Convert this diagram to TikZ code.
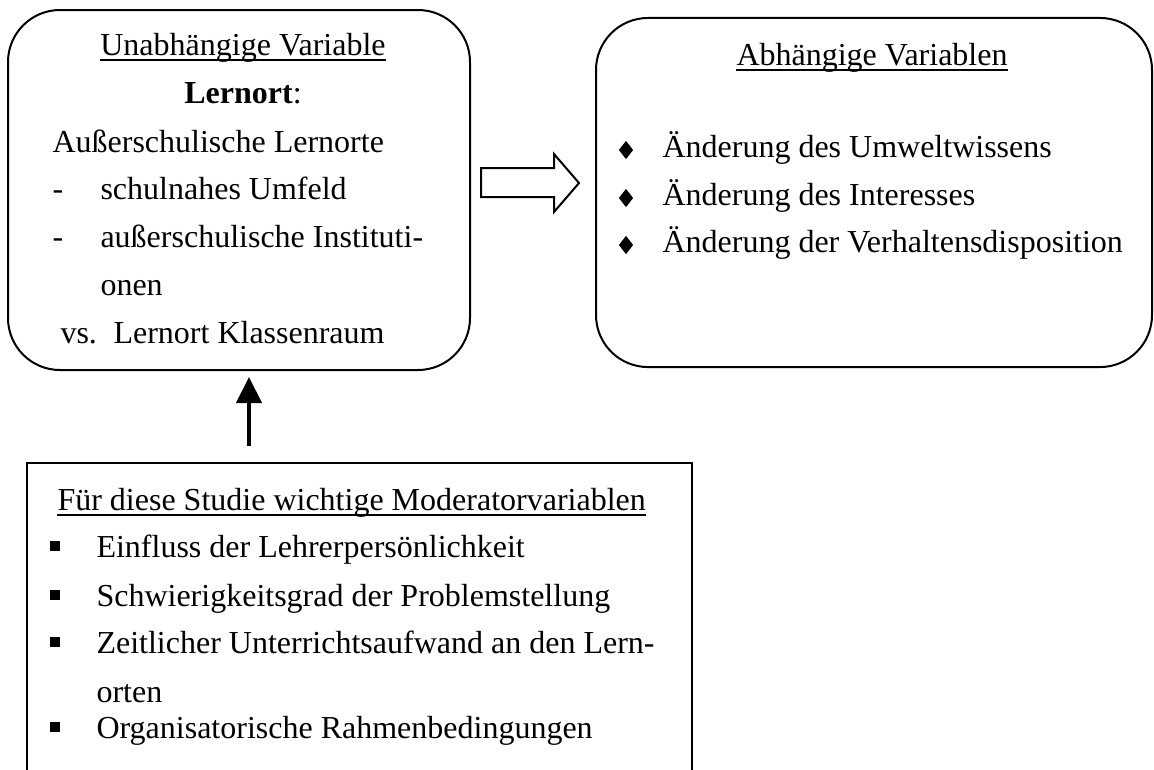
\documentclass[tikz,border=0pt]{standalone}
\usepackage{fontspec}
\setmainfont{Liberation Serif}
\usetikzlibrary{arrows.meta,positioning,shapes.geometric}
\tikzset{
  roundbox/.style={draw,line width=0.75pt,rounded corners=19.5pt,inner sep=0},
  flatbox/.style={draw,line width=0.6pt,inner sep=0},
  txt/.style={anchor=base west,inner sep=0},
  ttl/.style={anchor=base,inner sep=0},
  uline/.style={line width=0.7pt},
  dia/.style={diamond,fill,inner sep=0,minimum width=5.5pt,minimum height=7pt},
  sqb/.style={fill,inner sep=0,minimum size=3.8pt}
}

\begin{document}
\begin{tikzpicture}[x=0.375pt,y=-0.375pt,font=\fontsize{12}{14}\selectfont]
  \useasboundingbox (0,0) rectangle (1154,769);
  \clip (0,0) rectangle (1154,769);

  % Unabhaengige Variable
  \node[roundbox,minimum width=173.25pt,minimum height=135pt] (lbox) at (239,190) {};
  \node[ttl] (uvTitle) at (243,55) {Unabhängige Variable};
  \draw[uline] ([yshift=-2pt]uvTitle.base west) -- ([yshift=-2pt]uvTitle.base east);
  \node[ttl] (uvLernort) at (243,103) {\textbf{Lernort}:};
  \node[txt] (uvAusser) at (52,152) {Außerschulische Lernorte};
  \node[txt] (dashA) at (52,199) {-};
  \node[txt] (uvUmfeld) at (100,199) {schulnahes Umfeld};
  \node[txt] (dashB) at (52,247) {-};
  \node[txt] (uvInst) at (100,247) {außerschulische Instituti-};
  \node[txt] (uvOnen) at (100,295) {onen};
  \node[txt] (uvVs) at (60,343) {vs.};
  \node[txt] (uvKlasse) at (113,343) {Lernort Klassenraum};

  % Abhaengige Variablen
  \node[roundbox,minimum width=208.5pt,minimum height=130.9pt] (rbox) at (874,192.5) {};
  \node[ttl] (avTitle) at (872,65) {Abhängige Variablen};
  \draw[uline] ([yshift=-2pt]avTitle.base west) -- ([yshift=-2pt]avTitle.base east);
  \foreach \yy/\name/\lbl in {157/avWissen/{Änderung des Umweltwissens},
      205/avInteresse/{Änderung des Interesses},
      252/avVerhalten/{Änderung der Verhaltensdisposition}} {
    \node[dia] at (626,\yy-7) {};
    \node[txt] (\name) at (662,\yy) {\lbl};
  }

  % Block arrow
  \draw[line width=0.75pt] (481,168) -- (554,168) -- (554,154) -- (579,183)
    -- (554,212) -- (554,197) -- (481,197) -- cycle;

  % Moderatorvariablen
  \node[flatbox,minimum width=249.4pt,minimum height=126.4pt] (mbox) at (359.5,631.5) {};
  \node[txt] (mvTitle) at (57,510) {Für diese Studie wichtige Moderatorvariablen};
  \draw[uline] ([yshift=-2pt]mvTitle.base west) -- ([yshift=-2pt]mvTitle.base east);
  \foreach \yy/\name/\lbl in {557/mvLehrer/{Einfluss der Lehrerpersönlichkeit},
      606/mvGrad/{Schwierigkeitsgrad der Problemstellung},
      653/mvZeit/{Zeitlicher Unterrichtsaufwand an den Lern-},
      738/mvRahmen/{Organisatorische Rahmenbedingungen}} {
    \node[sqb] at (55,\yy-11) {};
    \node[txt] (\name) at (96,\yy) {\lbl};
  }
  \node[txt] (mvOrten) at (96,702) {orten};

  % Moderator -> Lernort
  \coordinate (upx) at (249,0);
  \draw[line width=1.5pt,-{Triangle[length=9.75pt,width=9.4pt]},
    shorten <=6pt,shorten >=2.25pt] (mbox.north -| upx) -- (lbox.south -| upx);
\end{tikzpicture}
\end{document}
